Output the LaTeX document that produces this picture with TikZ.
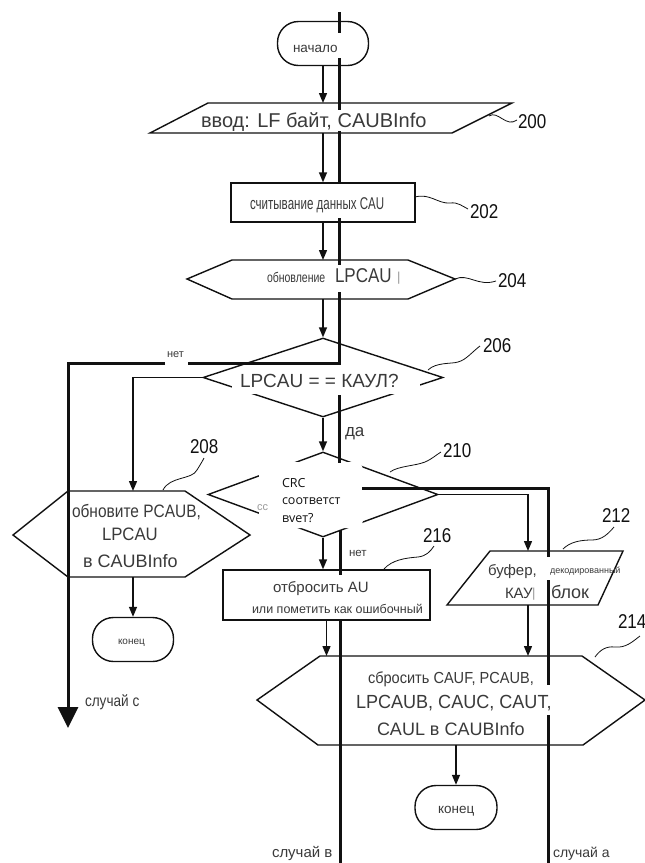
\documentclass[tikz,border=0pt]{standalone}
\usepackage{fontspec}
\usepackage{graphicx}
\setmainfont{Liberation Sans}
\newfontfamily\crcfont{Open Sans}
\usetikzlibrary{arrows.meta,shapes.geometric}
\definecolor{ink}{HTML}{111111}
\definecolor{txt}{HTML}{3A3A3A}
\definecolor{faint}{HTML}{9A9A9A}
\newcommand{\fs}[1]{\fontsize{#1}{#1}\selectfont}
\newcommand{\sx}[2]{\scalebox{#1}[1]{#2}}
\begin{document}
\begin{tikzpicture}[x=1pt,y=-1pt,
  shp/.style={draw=ink,line width=1.4pt,line join=miter},
  anch/.style={inner sep=0pt,outer sep=0pt,draw=none},
  flow/.style={draw=ink,line width=1.4pt,-{Triangle[length=10pt,width=8pt]}},
  heavy/.style={draw=ink,line width=3pt,line join=miter},
  lead/.style={draw=ink,line width=0.8pt},
  tx/.style={inner sep=0pt,outer sep=0pt,anchor=base west,text=txt},
  num/.style={inner sep=0pt,outer sep=0pt,anchor=base west,text=ink,font=\fs{20}},
  term/.style={shp,rounded corners=21pt,minimum height=44pt}
]
\useasboundingbox[fill=white] (0,0) rectangle (645,863);

% ---------- shapes ----------
\node[term,minimum width=91pt] (start) at (323,43.5) {};

\node[anch,minimum width=240pt,minimum height=30pt] (n200) at (323,118) {};
\draw[shp] (208,103) -- (512,103) -- (452,133) -- (150,133) -- cycle;

\node[shp,minimum width=184pt,minimum height=39pt] (n202) at (323,202.5) {};

\node[anch,minimum width=175pt,minimum height=39pt] (n204) at (323,279.5) {};
\draw[shp] (187,279) -- (232,260) -- (408,260) -- (455,279) -- (408,299) -- (232,299) -- cycle;

\node[shp,diamond,inner sep=0pt,minimum width=240pt,minimum height=79pt] (n206) at (323,377.5) {};

\node[anch,minimum width=172pt,minimum height=86pt] (n208) at (133,534) {};
\draw[shp] (13,535) -- (68,491) -- (185,491) -- (250,535) -- (185,577) -- (68,577) -- cycle;

\node[shp,diamond,inner sep=0pt,minimum width=230pt,minimum height=85pt] (n210) at (323,494.5) {};

\node[shp,minimum width=207pt,minimum height=50pt] (n216) at (326.5,595) {};

\node[anch,minimum width=100pt,minimum height=54pt] (n212) at (528,578) {};
\draw[shp] (490,551) -- (623,551) -- (598,605) -- (447,605) -- cycle;

\node[anch,minimum width=260pt,minimum height=89pt] (n214) at (451,700.5) {};
\draw[shp] (257,700) -- (320,656) -- (582,656) -- (645,700) -- (583,745) -- (318,745) -- cycle;

\node[term,minimum width=81pt] (end1) at (133,639.5) {};
\node[term,minimum width=82pt] (end2) at (456,807.5) {};

% ---------- thin flow connectors ----------
\draw[flow] (start.south) -- (start.south |- n200.north);
\draw[flow] (n200.south) -- (n202.north);
\draw[flow] (n202.south) -- (n204.north);
\draw[flow] (n204.south) -- (n206.north);
\draw[flow] (n206.south) -- (n210.north);
\draw[flow] (n206.west) -| (n208.north);
\draw[flow] (n208.south) -- (end1.north);
\draw[flow] (n210.south) -- (n210.south |- n216.north);
\draw[flow] (n210.east) -| (n212.north);
\draw[flow] (n216.south) -- (n216.south |- n214.north);
\draw[flow] (n212.south) -- (n212.south |- n214.north);
\draw[flow] (end2.north |- n214.south) -- (end2.north);

% ---------- white masks behind texts ----------
\node[anch,fill=white,minimum width=188pt,minimum height=23pt] (m206) at (326,382.5) {};
\node[anch,fill=white,rounded corners=8pt,minimum width=104pt,minimum height=66pt] (m210) at (311,495) {};

% ---------- heavy overlay path ----------
\coordinate (h0) at (339,12);
\draw[heavy] (h0) -- (339,33);
\draw[heavy] (339,58) -- (339,110);
\draw[heavy] (339,131) -- (339,184);
\draw[heavy] (339,218) -- (339,265);
\draw[heavy] (339,292) -- (339,363) -- (188,363);
\coordinate (caseC) at (68,728);
\draw[heavy,-{Triangle[length=21pt,width=20pt]}] (165,363) -- (68,363) -- (caseC);
\draw[heavy] (339,395) -- (339,463);
\draw[heavy] (362,488) -- (548,488) -- (548,557);
\draw[heavy] (548,580) -- (548,685);
\draw[heavy] (548,715) -- (548,863);
\draw[heavy] (340,530) -- (340,575);
\draw[heavy] (340,620) -- (340,863);

% ---------- texts ----------
\node[tx,font=\fs{13.5}] (t0) at (293,52) {начало};
\node[tx,font=\fs{20}] (t200) at (201,127) {ввод: LF байт, CAUBInfo};
\node[tx,font=\fs{17}] (t202) at (250,209.5) {\sx{0.68}{считывание данных CAU}};
\node[tx,font=\fs{14}] (t204a) at (267,282) {\sx{0.75}{обновление}};
\node[tx,font=\fs{20}] (t204b) at (335,282) {\sx{0.85}{LPCAU}};
\node[tx,font=\fs{13},text=faint] (t204c) at (397,281) {|};
\node[tx,font=\fs{19}] (t206) at (240,387) {LPCAU = = КАУЛ?};
\node[tx,font=\fs{11}] (tno1) at (167,357) {нет};
\node[tx,font=\fs{17}] (tyes) at (345,436) {да};
\node[tx,font=\crcfont\fs{12.5},text=ink] (c1) at (282,487) {CRC};
\node[tx,font=\crcfont\fs{12.5},text=ink] (c2) at (282,504.5) {соответст};
\node[tx,font=\crcfont\fs{12.5},text=ink] (c3) at (282,522) {вvет?};
\node[tx,font=\fs{11},text=faint] (cc) at (257,510) {сс};
\node[tx,font=\fs{18}] (t208a) at (72,517) {\sx{0.86}{обновите PCAUB,}};
\node[tx,font=\fs{18}] (t208b) at (102,540) {\sx{0.93}{LPCAU}};
\node[tx,font=\fs{18}] (t208c) at (83,567) {в CAUBInfo};
\node[tx,font=\fs{10}] (te1) at (118,644) {конец};
\node[tx,font=\fs{16}] (tcc) at (85,706) {\sx{0.85}{случай с}};
\node[tx,font=\fs{15}] (t216a) at (273,592) {отбросить AU};
\node[tx,font=\fs{12.5}] (t216b) at (252,613) {или пометить как ошибочный};
\node[tx,font=\fs{11.5}] (tno2) at (349,556) {нет};
\node[tx,font=\fs{15}] (t212a) at (488,575) {буфер,};
\node[tx,font=\fs{9}] (t212b) at (550,573) {декодированный};
\node[tx,font=\fs{15}] (t212c) at (505,598) {КАУ};
\node[tx,font=\fs{13},text=faint] (t212d) at (532,597) {|};
\node[tx,font=\fs{18}] (t212e) at (551,598) {блок};
\node[tx,font=\fs{16}] (t214a) at (368,683) {\sx{0.91}{сбросить CAUF, PCAUB,}};
\node[tx,font=\fs{19}] (t214b) at (356,708) {\sx{0.95}{LPCAUB, CAUC, CAUT,}};
\node[tx,font=\fs{18}] (t214c) at (377,735) {CAUL в CAUBInfo};
\node[tx,font=\fs{13.5}] (te2) at (438,813) {конец};
\node[tx,font=\fs{15}] (tcb) at (272,857) {случай в};
\node[tx,font=\fs{14}] (tca) at (553,857) {случай а};

% ---------- reference numbers ----------
\node[num] (l200) at (518,128) {\sx{0.85}{200}};
\node[num] (l202) at (470,218) {\sx{0.85}{202}};
\node[num] (l204) at (498,287) {\sx{0.85}{204}};
\node[num] (l206) at (483,352) {\sx{0.85}{206}};
\node[num] (l208) at (190,453) {\sx{0.85}{208}};
\node[num] (l210) at (443,457) {\sx{0.85}{210}};
\node[num] (l212) at (602,522) {\sx{0.85}{212}};
\node[num] (l216) at (423,542) {\sx{0.85}{216}};
\node[num] (l214) at (618,628) {\sx{0.85}{214}};

% ---------- lead lines ----------
\draw[lead] (489,116) .. controls (498,110) and (506,128) .. (517,120);
\draw[lead] (415,197) .. controls (430,193) and (438,204) .. (450,203) .. controls (458,202) and (462,206) .. (468,209);
\draw[lead] (455,279) .. controls (468,273) and (478,287) .. (496,281);
\draw[lead] (428,370) .. controls (436,362) and (452,364) .. (458,362) .. controls (466,360) and (472,352) .. (480,346);
\draw[lead] (163,490) .. controls (170,476) and (192,480) .. (197,470) .. controls (200,465) and (202,462) .. (204,458);
\draw[lead] (390,472) .. controls (398,466) and (415,466) .. (425,462) .. controls (432,459) and (436,455) .. (441,452);
\draw[lead] (563,549) .. controls (570,542) and (580,540) .. (592,540) .. controls (602,540) and (608,534) .. (614,527);
\draw[lead] (384,569) .. controls (392,560) and (405,558) .. (418,557) .. controls (426,556) and (430,552) .. (434,546);
\draw[lead] (595,657) .. controls (600,650) and (606,646) .. (615,647) .. controls (626,648) and (632,642) .. (640,636);
\end{tikzpicture}
\end{document}
